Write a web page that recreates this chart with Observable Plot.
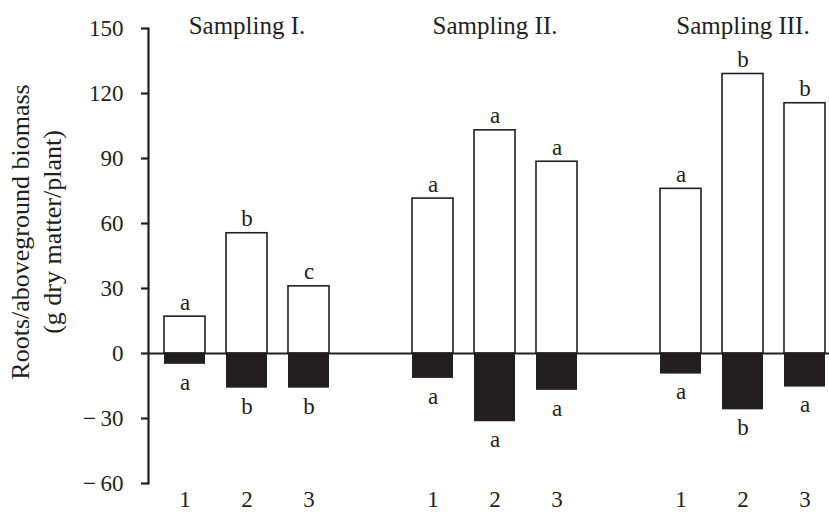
<!DOCTYPE html>
<html><head><meta charset="utf-8">
<script src="https://cdn.jsdelivr.net/npm/d3@7"></script>
<script src="https://cdn.jsdelivr.net/npm/@observablehq/plot@0.6"></script>
<style>html,body{margin:0;padding:0;background:#fff} #chart svg{display:block}</style>
</head><body><div id="chart"></div>
<script>
const samplings = ["Sampling I.", "Sampling II.", "Sampling III."];
const treatments = ["1", "2", "3"];
const aboveground = [[17, 55.5, 31], [71.5, 103, 88.5], [76, 129, 115.5]];
const roots = [[-5, -16, -16], [-11.5, -31.5, -17], [-9.5, -26, -15.5]];
const aboveLetters = [["a", "b", "c"], ["a", "a", "a"], ["a", "b", "b"]];
const rootLetters = [["a", "b", "b"], ["a", "a", "a"], ["a", "b", "a"]];
const yTicks = [-60, -30, 0, 30, 60, 90, 120, 150];
const yLabel = ["Roots/aboveground biomass", "(g dry matter/plant)"];

// slots: three bars per sampling, one empty slot between samplings
const slots = [];
samplings.forEach((s, i) => {
  treatments.forEach(t => slots.push(s + "|" + t));
  if (i < samplings.length - 1) slots.push("gap" + i);
});
const realSlots = slots.filter(d => !d.startsWith("gap"));

const rows = [];
samplings.forEach((s, i) => treatments.forEach((t, j) => {
  rows.push({slot: s + "|" + t, kind: "above", value: aboveground[i][j], letter: aboveLetters[i][j]});
  rows.push({slot: s + "|" + t, kind: "roots", value: roots[i][j], letter: rootLetters[i][j]});
}));
const above = rows.filter(d => d.kind === "above");
const below = rows.filter(d => d.kind === "roots");
const ink = "#231f20";

const chart = Plot.plot({
  width: 829, height: 513,
  marginLeft: 148, marginRight: 0, marginTop: 28, marginBottom: 30,
  style: {fontFamily: "'Liberation Serif', serif", fontSize: "23px", color: ink, background: "#fff"},
  x: {domain: slots, range: [159, 829], paddingInner: 0.345, paddingOuter: 0.016, align: 0.5},
  y: {domain: [-60, 150]},
  marks: [
    Plot.barY(above, {x: "slot", y1: 0, y2: "value", fill: "#fff", stroke: ink, strokeWidth: 1.6}),
    Plot.barY(below, {x: "slot", y1: 0, y2: "value", fill: ink}),
    Plot.ruleY([0], {stroke: ink, strokeWidth: 2}),
    Plot.frame({anchor: "left", stroke: ink, strokeWidth: 2.2}),
    Plot.axisY({ticks: yTicks, tickSize: 7, tickPadding: 18, strokeWidth: 2.2, stroke: ink, fill: ink,
      tickFormat: d => d < 0 ? "\u2212\u2009" + Math.abs(d) : String(d), label: null}),
    Plot.axisX({ticks: realSlots, tickSize: 0, tickPadding: 7, fill: ink, fontSize: 23,
      tickFormat: d => d.split("|")[1], label: null}),
    Plot.text(above, {x: "slot", y: "value", text: "letter", lineAnchor: "bottom", dy: -7, fill: ink}),
    Plot.text(below, {x: "slot", y: "value", text: "letter", lineAnchor: "top", dy: 9, fill: ink}),
    Plot.text(samplings, {x: (d, i) => slots[i * 4 + 1], text: d => d, frameAnchor: "top", lineAnchor: "middle", dy: -3, fontSize: 25, fill: ink}),
    Plot.text([yLabel[0]], {text: d => d, frameAnchor: "left", textAnchor: "middle", lineAnchor: "middle", rotate: -90, dx: -128, dy: -24, fontSize: 26, fill: ink}),
    Plot.text([yLabel[1]], {text: d => d, frameAnchor: "left", textAnchor: "middle", lineAnchor: "middle", rotate: -90, dx: -96, dy: -24, fontSize: 26, fill: ink})
  ]
});
document.getElementById("chart").appendChild(chart);
</script>
</body></html>
